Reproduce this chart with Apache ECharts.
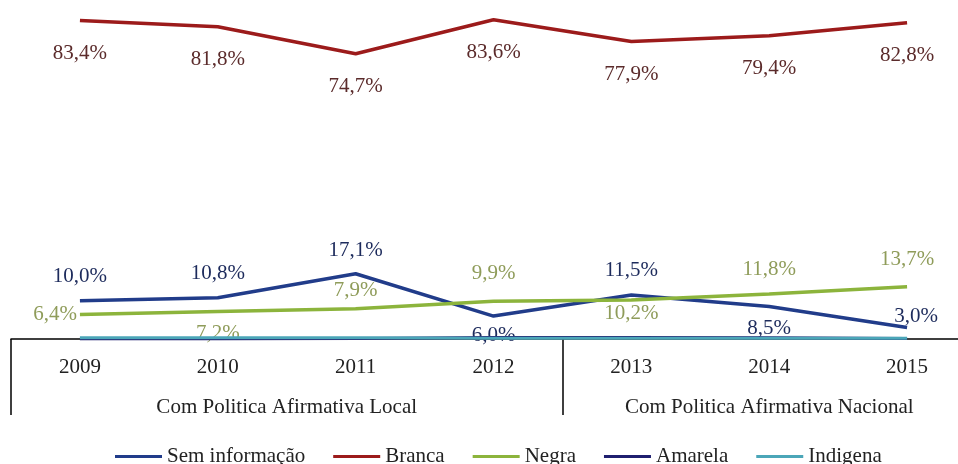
<!DOCTYPE html>
<html>
<head>
<meta charset="utf-8">
<script src="https://cdn.jsdelivr.net/npm/echarts@6/dist/echarts.min.js"></script>
<style>html,body{margin:0;padding:0;background:#fff}#c{width:958px;height:464px}</style>
</head>
<body>
<div id="c"></div>
<script>
const years = ['2009','2010','2011','2012','2013','2014','2015'];
const periods = ['Com Politica Afirmativa Local', 'Com Politica Afirmativa Nacional'];
const semInformacao = [10.0, 10.8, 17.1, 6.0, 11.5, 8.5, 3.0];
const branca = [83.4, 81.8, 74.7, 83.6, 77.9, 79.4, 82.8];
const negra = [6.4, 7.2, 7.9, 9.9, 10.2, 11.8, 13.7];
const amarela = [0.0, 0.0, 0.1, 0.4, 0.4, 0.3, 0.1];
const indigena = [0.3, 0.3, 0.3, 0.2, 0.2, 0.2, 0.2];

// label placement (style only): [position, distance, dx]
const semPos = [['top',14,0],['top',14,0],['top',13,0],['bottom',9,0],['top',14,0],['bottom',11,0],['top',1,9]];
const brancaPos = years.map(() => ['bottom',22,0]);
const negraPos = [['left',3,0],['bottom',11,0],['top',8,0],['top',17,0],['bottom',3,0],['top',14,0],['top',17,0]];

const FONT = 'Liberation Serif';
const FS = 21;
const fmt = v => v.toFixed(1).replace('.', ',') + '%';
function withLabels(vals, pos, color) {
  return vals.map((v, i) => ({
    value: v,
    label: {
      show: true, position: pos[i][0], distance: pos[i][1], offset: [pos[i][2], 0],
      formatter: () => fmt(v), color: color, fontFamily: FONT, fontSize: FS
    }
  }));
}

const chart = echarts.init(document.getElementById('c'));
chart.setOption({
  animation: false,
  backgroundColor: '#fff',
  textStyle: { fontFamily: FONT },
  grid: { left: 11, top: 3, width: 965, height: 336, outerBoundsMode: 'none', containLabel: false },
  legend: {
    top: 441, left: 110, itemWidth: 47, itemHeight: 3, itemGap: 28, icon: 'rect',
    textStyle: { fontFamily: FONT, fontSize: FS, color: '#222' },
    data: ['Sem informação', 'Branca', 'Negra', 'Amarela', 'Indigena']
  },
  xAxis: [{
    type: 'category', data: years, boundaryGap: true,
    axisLine: { show: true, lineStyle: { color: '#000', width: 1.5 } },
    axisTick: { show: true, length: 76, interval: (i) => i === 0 || i === 4, lineStyle: { color: '#000', width: 1.5 } },
    axisLabel: { margin: 18, fontFamily: FONT, fontSize: FS, color: '#222', interval: 0 },
    splitLine: { show: false }
  }, {
    type: 'value', min: -0.5, max: 6.5, interval: 0.5, position: 'bottom',
    axisLine: { show: false }, axisTick: { show: false }, splitLine: { show: false },
    axisLabel: {
      margin: 58, fontFamily: FONT, fontSize: FS, color: '#222', showMinLabel: true, showMaxLabel: true,
      formatter: (v) => (v === 1.5 ? periods[0] : (v === 5 ? periods[1] : ''))
    }
  }],
  yAxis: { type: 'value', min: 0, max: 88, show: false, splitLine: { show: false } },
  series: [
    { name: 'Sem informação', type: 'line', symbol: 'circle', symbolSize: 0, showSymbol: true, color: '#213C8A', lineStyle: { width: 3.5 },
      data: withLabels(semInformacao, semPos, '#1d2b5c'), z: 3 },
    { name: 'Branca', type: 'line', symbol: 'circle', symbolSize: 0, showSymbol: true, color: '#9C1B1B', lineStyle: { width: 3.5 },
      data: withLabels(branca, brancaPos, '#5b2b2b'), z: 3 },
    { name: 'Negra', type: 'line', symbol: 'circle', symbolSize: 0, showSymbol: true, color: '#8CB43C', lineStyle: { width: 3.5 },
      data: withLabels(negra, negraPos, '#8f9c5a'), z: 3 },
    { name: 'Amarela', type: 'line', symbol: 'none', color: '#1F1F6F', lineStyle: { width: 3 },
      data: amarela, z: 4 },
    { name: 'Indigena', type: 'line', symbol: 'none', color: '#4BA6B8', lineStyle: { width: 3 },
      data: indigena, z: 4 }
  ]
});
</script>
</body>
</html>
